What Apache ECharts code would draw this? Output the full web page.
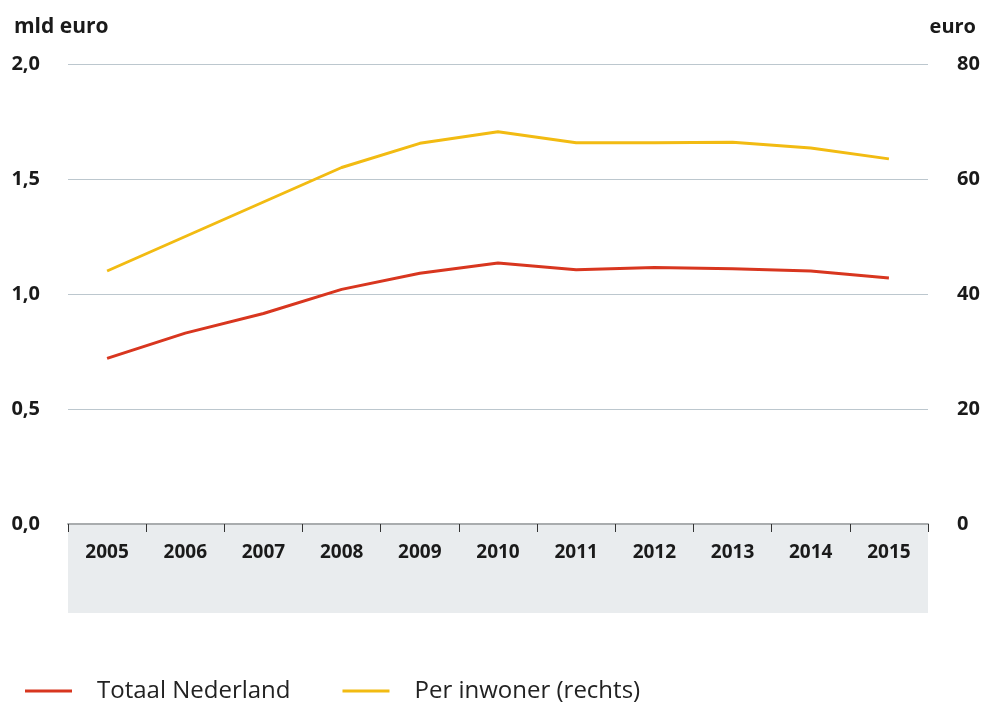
<!DOCTYPE html>
<html>
<head>
<meta charset="utf-8">
<script src="https://cdn.jsdelivr.net/npm/echarts@6/dist/echarts.min.js"></script>
<style>html,body{margin:0;padding:0;background:#fff}#c{width:984px;height:702px}</style>
</head>
<body>
<div id="c"></div>
<script>
var years = ['2005','2006','2007','2008','2009','2010','2011','2012','2013','2014','2015'];
var totaalNederland = [0.72, 0.83, 0.915, 1.02, 1.09, 1.135, 1.105, 1.115, 1.11, 1.10, 1.07];
var perInwoner = [44.0, 50.0, 56.0, 62.0, 66.2, 68.2, 66.3, 66.3, 66.4, 65.4, 63.5];
var leftTicks = {min: 0, max: 2, interval: 0.5};
var rightTicks = {min: 0, max: 80, interval: 20};

var chart = echarts.init(document.getElementById('c'));
var gl = 68, gr = 56, gt = 64, gb = 178;
var labelFont = {fontFamily: 'Open Sans', fontWeight: 'bold', fontSize: 20, color: '#1a1a1a'};
chart.setOption({
  backgroundColor: '#ffffff',
  animation: false,
  textStyle: {fontFamily: 'Open Sans'},
  title: [
    {text: 'mld euro', left: 9, top: 12, textStyle: {fontFamily: 'Open Sans', fontWeight: 'bold', fontSize: 21, color: '#1a1a1a'}},
    {text: 'euro', right: 3, top: 12, textStyle: {fontFamily: 'Open Sans', fontWeight: 'bold', fontSize: 20, color: '#1a1a1a'}}
  ],
  grid: {left: gl, right: gr, top: gt, bottom: gb, containLabel: false, outerBoundsMode: 'none'},
  graphic: [
    {type: 'rect', left: gl, top: 702 - gb, shape: {width: 984 - gl - gr, height: 89}, style: {fill: '#e9ecee'}, z: -1}
  ],
  legend: {
    left: 20, top: 674, itemGap: 52, icon: 'rect', itemWidth: 47, itemHeight: 3,
    textStyle: {fontFamily: 'Open Sans', fontSize: 24, color: '#222', padding: [0, 0, 0, 20]},
    data: ['Totaal Nederland', 'Per inwoner (rechts)']
  },
  xAxis: {type: 'category', data: years, boundaryGap: true,
    axisLine: {show: true, lineStyle: {color: '#a9acae', width: 2}},
    axisTick: {show: true, alignWithLabel: false, length: 8, lineStyle: {color: '#333', width: 1}},
    axisLabel: {margin: 19, fontFamily: 'Open Sans', fontWeight: 'bold', fontSize: 19, color: '#1a1a1a'},
    splitLine: {show: false}
  },
  yAxis: [
    {type: 'value', min: leftTicks.min, max: leftTicks.max, interval: leftTicks.interval, position: 'left',
      axisLine: {show: false}, axisTick: {show: false},
      axisLabel: Object.assign({margin: 28, formatter: function (v) { return v.toFixed(1).replace('.', ','); }}, labelFont),
      splitLine: {show: true, lineStyle: {color: '#bcc7ce', width: 1}}
    },
    {type: 'value', min: rightTicks.min, max: rightTicks.max, interval: rightTicks.interval, position: 'right',
      axisLine: {show: false}, axisTick: {show: false},
      axisLabel: Object.assign({margin: 29, align: 'left'}, labelFont),
      splitLine: {show: false}
    }
  ],
  series: [
    {name: 'Totaal Nederland', type: 'line', yAxisIndex: 0, data: totaalNederland, showSymbol: false, symbol: 'none',
      lineStyle: {color: '#d8361f', width: 3}, itemStyle: {color: '#d8361f'}},
    {name: 'Per inwoner (rechts)', type: 'line', yAxisIndex: 1, data: perInwoner, showSymbol: false, symbol: 'none',
      lineStyle: {color: '#f2bb12', width: 3}, itemStyle: {color: '#f2bb12'}}
  ]
});
</script>
</body>
</html>
